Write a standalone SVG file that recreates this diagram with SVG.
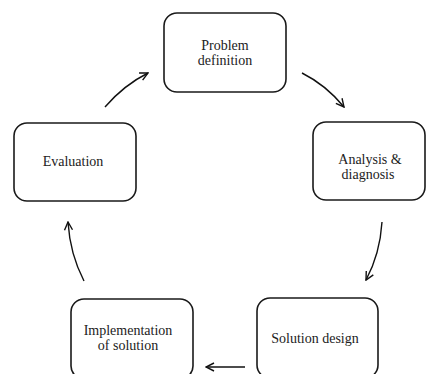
<svg xmlns="http://www.w3.org/2000/svg" width="426" height="374" viewBox="0 0 426 374">
<style>
.box{fill:#fff;stroke:#1a1a1a;stroke-width:1.6}
.lbl{font-family:"Liberation Serif","Times New Roman",serif;font-size:14px;fill:#222;text-anchor:middle}
.arr{fill:none;stroke:#111;stroke-width:1.4;marker-end:url(#ah)}
</style>
<defs>
<marker id="ah" viewBox="0 0 10 10" refX="9" refY="5" markerWidth="10" markerHeight="10" markerUnits="userSpaceOnUse" orient="auto">
<path d="M1,1 L9,5 L1,9" fill="none" stroke="#111" stroke-width="1.4"/>
</marker>
</defs>
<rect width="426" height="374" fill="#fff"/>
<g id="problem">
<rect class="box" x="164" y="13" width="122" height="79" rx="13"/>
<text class="lbl" x="225" y="50">Problem</text>
<text class="lbl" x="225" y="65">definition</text>
</g>
<g id="analysis">
<rect class="box" x="313" y="122" width="112" height="78" rx="13"/>
<text class="lbl" x="370" y="164">Analysis &amp;</text>
<text class="lbl" x="368" y="179">diagnosis</text>
</g>
<g id="solution">
<rect class="box" x="257" y="298" width="121" height="80" rx="13"/>
<text class="lbl" x="315" y="343">Solution design</text>
</g>
<g id="implementation">
<rect class="box" x="71" y="299" width="122" height="80" rx="13"/>
<text class="lbl" x="128" y="335">Implementation</text>
<text class="lbl" x="128" y="350">of solution</text>
</g>
<g id="evaluation">
<rect class="box" x="14" y="123" width="122" height="78" rx="13"/>
<text class="lbl" x="73" y="166">Evaluation</text>
</g>
<g id="connectors">
<path class="arr" d="M105,107 Q124,85 148,73"/>
<path class="arr" d="M302,73 Q326,85 344,107"/>
<path class="arr" d="M382,222 Q380,254 366,280"/>
<path class="arr" d="M245,367 L206,367"/>
<path class="arr" d="M84,281 Q70,254 68,222"/>
</g>
</svg>
